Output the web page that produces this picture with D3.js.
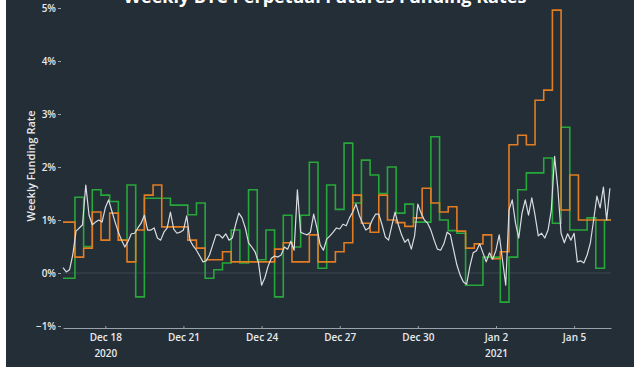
<!DOCTYPE html>
<html><head><meta charset="utf-8">
<script src="https://cdn.jsdelivr.net/npm/d3@7"></script>
<style>
html,body{margin:0;padding:0;background:#fff;}
svg{display:block;}
</style></head>
<body>
<svg id="c" width="640" height="367"></svg>
<script>
// ---- data ----
const startTime = "2020-12-16T09:00:00Z";
const endTime = "2021-01-06T10:00:00Z";
const firstStepBoundary = "2020-12-16T12:00:00Z"; // step series change every 8h after this
const stepHours = 8;
const lineHours = 3;

// orange: 8-hour step values (%)
const orangeValues = [0.96,0.96,0.30,0.47,1.15,0.62,1.13,0.62,0.21,0.81,1.47,1.66,0.87,0.87,0.87,0.62,
  0.47,0.25,0.25,0.40,0.21,0.21,0.21,0.21,0.21,0.45,0.57,0.21,0.21,0.72,0.21,0.21,
  0.40,0.57,1.47,0.94,0.77,1.47,1.00,0.95,0.88,1.04,1.60,1.32,1.15,1.25,0.79,0.47,
  0.55,0.72,0.27,0.40,2.42,2.60,2.42,3.26,3.45,4.96,1.19,1.85,1.00,1.00,1.00,1.00];

// green: 8-hour step values (%)
const greenValues = [-0.10,-0.10,1.43,0.50,1.57,1.47,1.35,0.62,1.66,-0.45,1.41,1.41,1.41,1.28,1.28,1.10,
  1.32,-0.10,0.06,0.19,0.81,0.19,1.57,0.25,0.81,-0.45,1.09,0.49,1.09,2.09,0.09,1.66,
  1.20,2.45,1.32,2.13,1.85,1.50,2.00,1.13,1.30,0.96,0.96,2.57,1.00,0.80,0.75,-0.23,
  -0.23,0.30,0.30,-0.55,0.30,1.57,1.89,1.89,2.17,0.94,2.75,0.81,0.81,1.04,0.09,1.00];

// white: 3-hourly values (%)
const whiteValues = [0.10,0.02,0.06,0.34,0.79,0.85,0.91,1.66,1.09,0.91,0.96,1.00,0.96,1.23,1.38,1.17,
  0.96,0.77,0.62,0.49,0.60,0.74,0.75,0.85,0.94,1.09,0.81,0.81,0.85,0.66,0.62,0.77,
  0.85,1.15,0.83,0.75,0.77,0.81,1.08,0.62,0.51,0.43,0.32,0.21,0.23,0.34,0.53,0.72,
  0.72,0.66,0.74,0.62,0.66,0.91,1.13,1.04,0.85,0.57,0.49,0.40,0.21,-0.23,-0.09,0.13,
  0.28,0.32,0.30,0.34,0.49,0.45,0.60,0.43,1.57,0.77,0.74,0.72,0.77,1.11,0.85,0.53,
  0.43,0.64,0.70,0.77,0.85,0.83,0.92,0.89,1.04,1.15,1.30,1.09,0.94,0.81,0.85,1.00,
  1.11,1.11,0.91,0.68,0.62,0.89,1.15,0.91,0.72,0.58,0.64,0.45,0.70,1.30,1.13,1.00,
  0.94,0.81,0.62,0.45,0.43,0.55,0.77,0.72,0.43,0.15,-0.04,-0.17,-0.21,0.13,0.38,0.42,
  0.55,0.38,0.21,0.38,0.26,0.43,0.72,0.25,-0.23,1.19,1.38,0.94,0.66,1.13,1.38,1.09,
  1.42,1.09,0.70,0.75,0.66,0.81,1.19,2.20,1.60,0.75,0.57,0.74,0.62,0.75,0.21,0.23,
  0.19,0.34,0.57,1.00,1.45,1.23,1.62,1.00,1.60];

const yTicks = [-1,0,1,2,3,4,5];
const yTickLabels = ["\u22121%","0%","1%","2%","3%","4%","5%"];
const xTickDates = ["2020-12-18","2020-12-21","2020-12-24","2020-12-27","2020-12-30","2021-01-02","2021-01-05"];
const xTickLabels = ["Dec 18","Dec 21","Dec 24","Dec 27","Dec 30","Jan 2","Jan 5"];
const xTickYears = ["2020","","","","","2021",""];
const titleText = "Weekly BTC Perpetual Futures Funding Rates";
const yTitleText = "Weekly Funding Rate";

// ---- build ----
const t0 = new Date(startTime), t1 = new Date(endTime), tb = new Date(firstStepBoundary);
function stepSeries(vals){
  const pts = vals.map((v,k)=>({t: k===0 ? t0 : d3.utcHour.offset(tb, stepHours*(k-1)), v}));
  pts.push({t: t1, v: vals[vals.length-1]});
  return pts;
}
const orange = stepSeries(orangeValues);
const green = stepSeries(greenValues);
const white = whiteValues.map((v,i)=>({t: d3.utcHour.offset(t0, lineHours*i), v}));

const svg = d3.select("#c");
const H = 367;
svg.append("rect").attr("x",6).attr("y",0).attr("width",628).attr("height",H).attr("fill","#242e37");

const x = d3.scaleUtc().domain([t0,t1]).range([63,611]);
const y = d3.scaleLinear().domain([-1,5]).range([326,8]);

const font = "'Open Sans', 'Noto Sans', sans-serif";

// zero line
svg.append("line").attr("x1",x(t0)).attr("x2",x(t1)).attr("y1",y(0)).attr("y2",y(0))
  .attr("stroke","#3c4752").attr("stroke-width",1);

// y axis
const yAxis = d3.axisLeft(y).tickValues(yTicks).tickFormat((d,i)=>yTickLabels[i]).tickSize(3).tickPadding(2);
const gy = svg.append("g").attr("transform","translate(61,0)").call(yAxis);
gy.select(".domain").remove();
gy.selectAll(".tick line").attr("stroke","#9aa3ab");
gy.selectAll("text").attr("fill","#e8eaec").attr("font-family",font).attr("font-size",10).attr("font-weight",600);

// x axis
const xAxis = d3.axisBottom(x).tickValues(xTickDates.map(d=>new Date(d+"T00:00:00Z")))
  .tickFormat((d,i)=>xTickLabels[i]).tickSize(-2).tickPadding(6).tickSizeOuter(0);
const gx = svg.append("g").attr("transform",`translate(0,${y(-1)+2})`).call(xAxis);
gx.select(".domain").attr("stroke","#9aa3ab").attr("stroke-width",1.2);
gx.selectAll(".tick line").attr("stroke","#9aa3ab");
gx.selectAll("text").attr("fill","#e8eaec").attr("font-family",font).attr("font-size",10).attr("font-weight",600);
gx.selectAll(".tick").append("text").text((d,i)=>xTickYears[i])
  .attr("y",22).attr("dy","0.71em").attr("text-anchor","middle")
  .attr("fill","#e8eaec").attr("font-family",font).attr("font-size",10).attr("font-weight",600);

// lines
const stepLine = d3.line().x(d=>x(d.t)).y(d=>y(d.v)).curve(d3.curveStepAfter);
const plainLine = d3.line().x(d=>x(d.t)).y(d=>y(d.v));
svg.append("path").datum(green).attr("d",stepLine).attr("fill","none").attr("stroke","#26a83a").attr("stroke-width",1.6);
svg.append("path").datum(orange).attr("d",stepLine).attr("fill","none").attr("stroke","#e27d22").attr("stroke-width",1.6);
svg.append("path").datum(white).attr("d",plainLine).attr("fill","none").attr("stroke","#d9dde2").attr("stroke-width",1.2).attr("stroke-linejoin","round");

// titles
svg.append("text").text(titleText).attr("x",325).attr("y",3).attr("text-anchor","middle")
  .attr("fill","#ffffff").attr("font-family",font).attr("font-size",18).attr("font-weight",700);
svg.append("text").text(yTitleText).attr("transform","translate(35,166) rotate(-90)").attr("text-anchor","middle")
  .attr("fill","#e8eaec").attr("font-family",font).attr("font-size",11).attr("font-weight",600);
</script>
</body></html>
